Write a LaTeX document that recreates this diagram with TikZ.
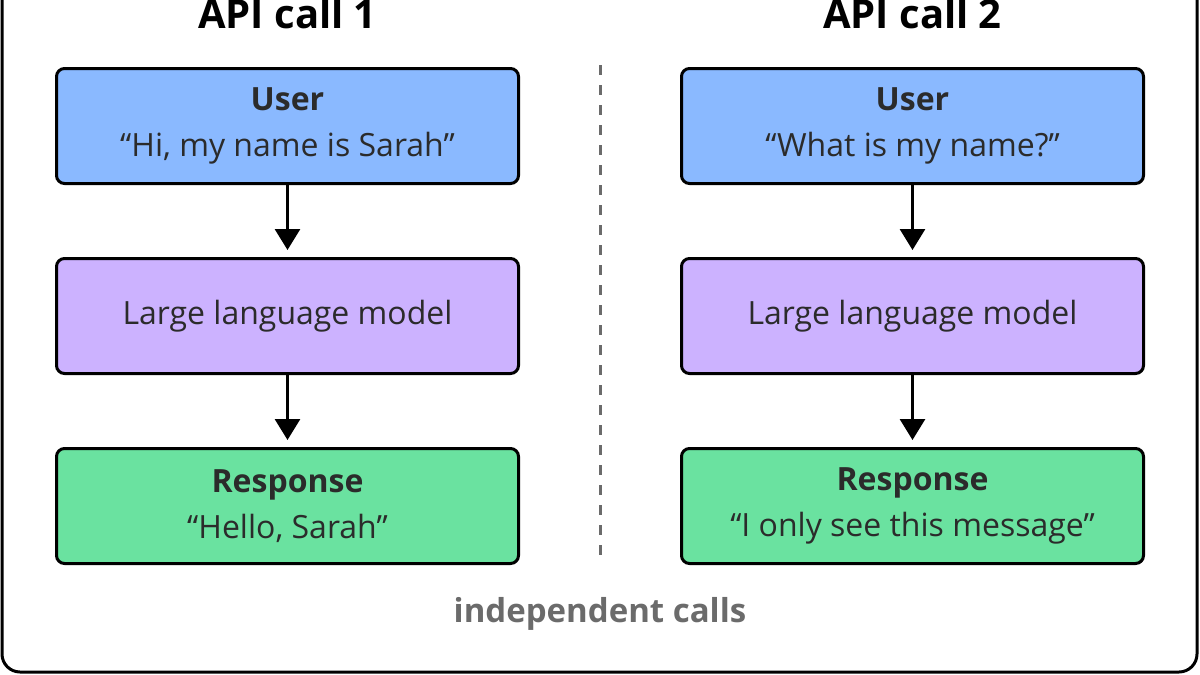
\documentclass[tikz,border=0pt]{standalone}
\usepackage{fontspec}
\setmainfont{Open Sans}
\usetikzlibrary{arrows.meta}
\definecolor{userblue}{HTML}{8AB9FF}
\definecolor{llmpurple}{HTML}{CCB2FF}
\definecolor{respgreen}{HTML}{6AE2A0}
\definecolor{boxtext}{HTML}{2B2B2B}
\definecolor{notegray}{HTML}{6B6B6B}
\tikzset{
    box/.style={draw=black, line width=1.5pt, rounded corners=4pt,
        minimum width=231pt, minimum height=57.5pt, align=center,
        text=boxtext, font=\fontsize{16}{23}\selectfont},
    flow/.style={line width=1.5pt, -{Triangle[width=12.5pt,length=10.5pt]}, shorten >=3.5pt},
    title/.style={font=\fontsize{20}{22}\selectfont\bfseries, anchor=base}
}
\begin{document}
\begin{tikzpicture}[x=0.5pt, y=-0.5pt]
    \useasboundingbox (0,0) rectangle (1200,675);
    \draw[line width=1.5pt, rounded corners=9pt] (2,-40) rectangle (1197,672);
    % titles
    \node[title] (title1) at (287.5,28) {API call 1};
    \node[title] (title2) at (912.5,28) {API call 2};
    % first call
    \node[box, fill=userblue] (user1) at (287.5,126) {\textbf{User}\\“Hi, my name is Sarah”};
    \node[box, fill=llmpurple] (llm1) at (287.5,316) {Large language model};
    \node[box, fill=respgreen] (resp1) at (287.5,506) {\textbf{Response}\\“Hello, Sarah”};
    % second call
    \node[box, fill=userblue] (user2) at (912.5,126) {\textbf{User}\\“What is my name?”};
    \node[box, fill=llmpurple] (llm2) at (912.5,316) {Large language model};
    \node[box, fill=respgreen] (resp2) at (912.5,506) {\textbf{Response}\\“I only see this message”};
    \draw[flow] (user1) -- (llm1);
    \draw[flow] (llm1) -- (resp1);
    \draw[flow] (user2) -- (llm2);
    \draw[flow] (llm2) -- (resp2);
    % separator
    \draw[notegray, line width=1.5pt, dash pattern=on 5pt off 5pt] (600,65) -- (600,560);
    \node[text=notegray, font=\fontsize{16.5}{18}\selectfont\bfseries] (note) at (600,614) {independent calls};
\end{tikzpicture}
\end{document}
